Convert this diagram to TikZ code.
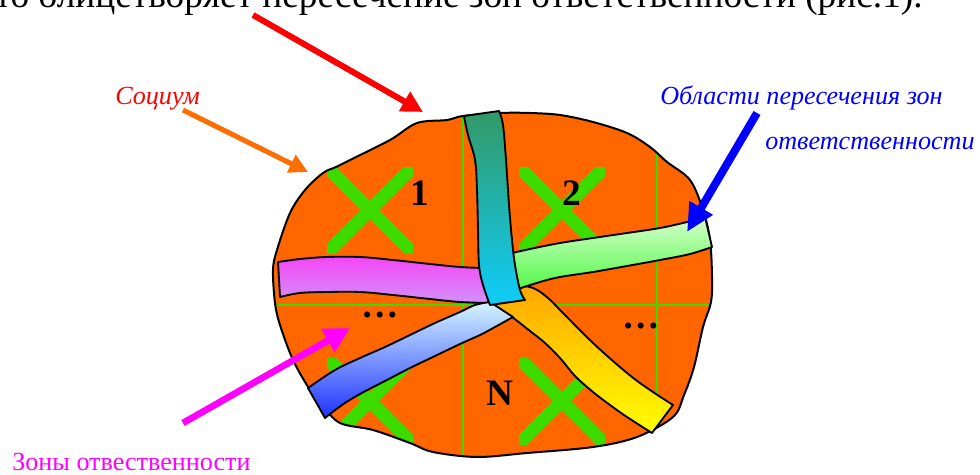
\documentclass[tikz,border=0pt]{standalone}
\usepackage{fontspec}
\setmainfont{Liberation Serif}
\usetikzlibrary{arrows.meta}
\definecolor{bloborange}{RGB}{255,102,0}
\definecolor{gridgreen}{RGB}{60,220,0}
\definecolor{arrorange}{RGB}{255,110,0}
\definecolor{pureRed}{RGB}{255,0,0}
\definecolor{pureBlue}{RGB}{0,0,255}
\definecolor{pureMagenta}{RGB}{255,0,255}
\begin{document}
\begin{tikzpicture}[x=0.75pt,y=-0.75pt,
  ribbon/.style={draw=black,line width=1.4pt,line join=round},
  xstroke/.style={draw=gridgreen,line width=9.75pt,line cap=butt},
  gridline/.style={draw=gridgreen,line width=1.6pt},
  bignum/.style={font=\fontsize{28}{30}\selectfont\bfseries,anchor=base,inner sep=0pt},
  label/.style={font=\fontsize{19.6}{21}\selectfont\itshape,anchor=base west,inner sep=0pt},
  pointer/.style={line width=#1,line cap=butt}]
\clip (0,0) rectangle (980,474);
\def\blobpath{plot[smooth cycle,tension=0.55] coordinates {(463,116) (500,113) (530,113) (560,115) (593,122) (627,133) (650,147) (667,162) (690,180) (703,210) (710,240) (712,277) (711,302) (703,327) (694,367) (684,395) (673,417) (637,437) (593,447) (527,453) (477,457) (433,452) (410,443) (373,430) (340,423) (322,405) (310,390) (293,360) (280,325) (275,303) (273,270) (277,250) (290,213) (305,190) (323,173) (336,167) (350,160) (390,140) (417,123) (447,120)}}
% top text (cut by the frame, as in the reference)
\node[anchor=base east,inner sep=0pt,font=\fontsize{28}{30}\selectfont] (toptext) at (923,7.5) {что олицетворяет пересечение зон ответственности (рис.1).};
% blob
\fill[bloborange] \blobpath;
\begin{scope}
  \clip \blobpath;
  \draw[gridline] (463,100) -- (463,470);
  \draw[gridline] (657,140) -- (657,470);
  \draw[gridline] (260,305) -- (720,305);
  \foreach \cx/\cy in {370/210,562/210,370/401,562/401}{
    \begin{scope}
      \clip (\cx-43,\cy-43) rectangle (\cx+43,\cy+43);
      \draw[xstroke] (\cx-55,\cy-55) -- (\cx+55,\cy+55);
      \draw[xstroke] (\cx+55,\cy-55) -- (\cx-55,\cy+55);
    \end{scope}
  }
\end{scope}
\draw[black,line width=1.5pt] \blobpath;
% numbers and dots
\node[bignum] (n1) at (420,205) {1};
\node[bignum] (n2) at (572,205) {2};
\node[bignum] (nN) at (500,405) {N};
\node[bignum] (d1) at (380,317) {…};
\node[bignum] (d2) at (641,328) {…};
% ribbons
\shadedraw[ribbon,top color={rgb,255:red,255;green,165;blue,0},bottom color={rgb,255:red,255;green,255;blue,0}]
  plot[smooth,tension=0.6] coordinates {(512,284) (533,288) (548,298) (562,312) (593,343) (627,373) (650,390) (673,405)}
  -- (652,433)
  -- plot[smooth,tension=0.6] coordinates {(652,433) (627,417) (610,405) (593,392) (575,376) (560,358) (545,343) (530,331) (512,317) (495,306)}
  -- cycle;
\shadedraw[ribbon,top color={rgb,255:red,245;green,70;blue,245},bottom color={rgb,255:red,210;green,145;blue,250}]
  plot[smooth,tension=0.6] coordinates {(278,262) (300,259) (327,257) (360,257) (393,260) (430,264) (460,267) (484,268)}
  -- plot[smooth,tension=0.6] coordinates {(490,303) (460,302) (430,299) (393,295) (360,292) (327,292) (300,293) (280,297)}
  -- cycle;
\shadedraw[ribbon,top color={rgb,255:red,215;green,255;blue,205},bottom color={rgb,255:red,80;green,248;blue,70}]
  plot[smooth,tension=0.6] coordinates {(508,254) (530,249) (560,243) (593,238) (627,233) (660,228) (687,222) (705,217)}
  -- (712,247)
  -- plot[smooth,tension=0.6] coordinates {(712,247) (690,254) (660,260) (627,266) (593,272) (560,277) (540,282) (515,290)}
  -- cycle;
\shadedraw[ribbon,top color={rgb,255:red,212;green,246;blue,255},bottom color={rgb,255:red,30;green,50;blue,255}]
  plot[smooth,tension=0.6] coordinates {(490,302) (475,305) (460,312) (435,323) (410,335) (385,347) (360,358) (335,370) (308,388)}
  -- (325,418)
  -- plot[smooth,tension=0.6] coordinates {(325,418) (342,405) (360,394) (385,381) (410,368) (435,356) (460,344) (480,335) (495,327) (513,317)}
  -- cycle;
\shadedraw[ribbon,top color={rgb,255:red,51;green,153;blue,102},bottom color={rgb,255:red,15;green,205;blue,250}]
  plot[smooth,tension=0.6] coordinates {(464,116) (468,135) (475,160) (477,190) (478,230) (479,265) (483,285) (490,305)}
  -- plot[smooth,tension=0.6] coordinates {(525,300) (520,290) (515,265) (512,240) (509,205) (506,160) (503,125) (499,111)}
  -- cycle;
% labels
\node[label,text=pureRed] (socium) at (115,105) {Социум};
\node[label,text=pureBlue] (obl1) at (660,105) {Области пересечения зон};
\node[label,text=pureBlue] (obl2) at (765,150) {ответственности};
\node[label,font=\fontsize{19.6}{21}\selectfont\upshape,text=pureMagenta] (zony) at (12,470) {Зоны отвественности};
% arrows
\coordinate (redS) at (253,15);
\coordinate (redE) at (423,112);
\coordinate (orS) at (183,110);
\coordinate (orE) at (308,172);
\coordinate (blS) at (757,113);
\coordinate (blE) at (687,232);
\coordinate (mgS) at (183,423);
\coordinate (mgE) at (350,328);
\draw[pointer=4.5pt,pureRed,-{Triangle[length=16pt,width=16pt]}] (redS) -- (redE);
\draw[pointer=3.8pt,arrorange,-{Triangle[length=14pt,width=14pt]}] (orS) -- (orE);
\draw[pointer=6pt,pureBlue,-{Triangle[length=21pt,width=19pt]}] (blS) -- (blE);
\draw[pointer=5pt,pureMagenta,-{Triangle[length=19pt,width=19pt]}] (mgS) -- (mgE);
\end{tikzpicture}
\end{document}
